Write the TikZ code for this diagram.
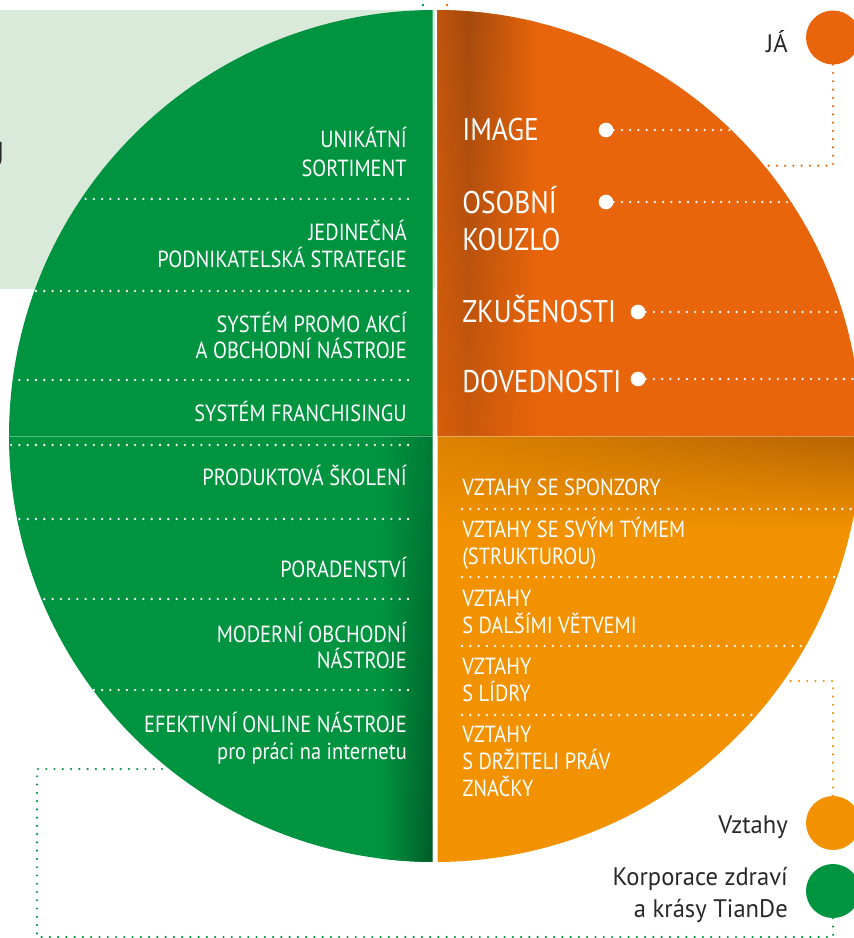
\documentclass[tikz,border=0pt]{standalone}
\usepackage{fontspec}
\usetikzlibrary{fadings}
\newfontfamily\cf[FakeStretch=0.875]{PT Sans}
\newfontfamily\lf[FakeStretch=0.97]{PT Sans}
\definecolor{gr}{RGB}{0,148,64}
\definecolor{dgr}{RGB}{0,92,40}
\definecolor{lgr}{RGB}{217,234,219}
\definecolor{orU}{RGB}{233,101,11}
\definecolor{brU}{RGB}{164,74,14}
\definecolor{orL}{RGB}{242,146,0}
\definecolor{brL}{RGB}{182,100,4}
\definecolor{txt}{RGB}{40,40,40}
\tikzfading[name=gfade, top color=transparent!55, bottom color=transparent!0]
\tikzfading[name=ofade, top color=transparent!0, bottom color=transparent!55]
\tikzfading[name=lfade, left color=transparent!65, right color=transparent!0]
\begin{document}
\begin{tikzpicture}[x=0.75pt,y=-0.75pt,
  gtxt/.style={font=\cf\fontsize{17.5}{21}\selectfont, text=white, inner sep=0, anchor=base east},
  otxt/.style={font=\cf\fontsize{17.5}{21}\selectfont, text=white, inner sep=0, anchor=base west},
  btxt/.style={font=\cf\fontsize{23.5}{28}\selectfont, text=white, inner sep=0, anchor=base west},
  ltxt/.style={font=\lf\fontsize{19}{24}\selectfont, text=txt, inner sep=0, anchor=base east},
  wdots/.style={white, line width=1.9pt, line cap=round, dash pattern=on 0pt off 6.2pt},
  cdots/.style={#1, line width=1.8pt, line cap=round, dash pattern=on 0pt off 6.2pt},
  bigdot/.style={circle, fill=white, minimum size=11pt, inner sep=0},
  legdot/.style={circle, fill=#1, minimum size=40.5pt, inner sep=0}]
\useasboundingbox (0,0) rectangle (853,938);
% background panel
\fill[lgr] (0,10) rectangle (435,289);
\node[font=\lf\fontsize{27}{30}\selectfont, text=txt, anchor=base east, inner sep=0] (u) at (5,167) {U};
% top dots
\coordinate (gt) at (423,5);
\coordinate (ot) at (447,5);
\fill[gr] (gt) circle[radius=1.3];
\fill[orU] (ot) circle[radius=1.3];
% legend and connectors
\node[legdot=orU] (ja) at (833,37.5) {};
\node[ltxt] (jat) at (788,53) {JÁ};
\coordinate (jae) at (767,165.7);
\draw[cdots=orU] (ja.south) |- (jae);
\node[legdot=orL] (vz) at (833,823) {};
\node[ltxt] (vzt) at (788,833) {Vztahy};
\coordinate (vze) at (783,681);
\draw[cdots=orL] (vz.north) |- (vze);
\node[legdot=gr] (kc) at (833,891) {};
\node[ltxt] (kct1) at (788,885) {Korporace zdraví};
\node[ltxt] (kct2) at (788,917) {a krásy TianDe};
\coordinate (c1) at (37,937);
\coordinate (ge) at (168,769);
\draw[cdots=gr] (kc.south) |- (c1) |- (ge);
% green half
\begin{scope}
  \clip (0,0) rectangle (432.8,938);
  \clip (435,436) circle[radius=426];
  \fill[gr] (0,0) rectangle (433,938);
  \shade[left color=gr, right color=dgr, path fading=gfade] (380,436) rectangle (433,866);
  \draw[white, opacity=0.3, line width=0.75pt] (432.3,0) -- (432.3,938);
  \foreach \yy in {199,291,380,445,519,599,690}{
    \draw[wdots] (408,\yy) -- (0,\yy);
  }
\end{scope}
% upper orange quarter
\begin{scope}
  \clip (437.7,0) rectangle (900,436);
  \clip (435,436) circle[radius=426];
  \fill[orU] (437,0) rectangle (900,436);
  \shade[left color=brU!60!orU, right color=brU, path fading=ofade] (437,0) rectangle (468,436);
  \shade[left color=brU, right color=orU, path fading=ofade] (468,0) rectangle (538,436);
\end{scope}
% lower orange quarter
\begin{scope}
  \clip (437.7,436) rectangle (900,938);
  \clip (435,436) circle[radius=426];
  \fill[orL] (437,436) rectangle (900,938);
  \shade[top color=brL, bottom color=orL, path fading=lfade] (438,436) rectangle (870,530);
\end{scope}
% separator line
\begin{scope}
  \clip (435,436) circle[radius=426];
  \draw[white, opacity=0.35, line width=0.75pt] (0,436) -- (900,436);
\end{scope}
% green texts
\node[gtxt] (g1a) at (407,148) {UNIKÁTNÍ};
\node[gtxt] (g1b) at (407,176) {SORTIMENT};
\node[gtxt] (g2a) at (407,240) {JEDINEČNÁ};
\node[gtxt] (g2b) at (407,267) {PODNIKATELSKÁ STRATEGIE};
\node[gtxt] (g3a) at (407,332) {SYSTÉM PROMO AKCÍ};
\node[gtxt] (g3b) at (407,358) {A OBCHODNÍ NÁSTROJE};
\node[gtxt] (g4) at (407,421) {SYSTÉM FRANCHISINGU};
\node[gtxt] (g5) at (407,485) {PRODUKTOVÁ ŠKOLENÍ};
\node[gtxt] (g6) at (407,577) {PORADENSTVÍ};
\node[gtxt] (g7a) at (407,642) {MODERNÍ OBCHODNÍ};
\node[gtxt] (g7b) at (407,668) {NÁSTROJE};
\node[gtxt] (g8a) at (407,732) {EFEKTIVNÍ ONLINE NÁSTROJE};
\node[gtxt] (g8b) at (407,759) {pro práci na internetu};
% upper orange texts with dots
\begin{scope}
  \clip (435,436) circle[radius=426];
  \node[btxt] (o1) at (462,141) {IMAGE};
  \node[bigdot] (o1d) at (606,130) {};
  \coordinate (o1e) at (870,130);
  \draw[wdots] (o1d) -- (o1e);
  \node[btxt] (o2a) at (462,213) {OSOBNÍ};
  \node[btxt] (o2b) at (462,250) {KOUZLO};
  \node[bigdot] (o2d) at (606,202) {};
  \coordinate (o2e) at (870,202);
  \draw[wdots] (o2d) -- (o2e);
  \node[btxt] (o3) at (462,322) {ZKUŠENOSTI};
  \node[bigdot] (o3d) at (638,312) {};
  \coordinate (o3e) at (870,312);
  \draw[wdots] (o3d) -- (o3e);
  \node[btxt] (o4) at (462,392) {DOVEDNOSTI};
  \node[bigdot] (o4d) at (638,379) {};
  \coordinate (o4e) at (870,379);
  \draw[wdots] (o4d) -- (o4e);
  % lower orange separators
  \foreach \yy in {509,577,646,715}{
    \draw[wdots] (462,\yy) -- (880,\yy);
  }
\end{scope}
\node[otxt] (l1) at (462,495) {VZTAHY SE SPONZORY};
\node[otxt] (l2a) at (462,537) {VZTAHY SE SVÝM TÝMEM};
\node[otxt] (l2b) at (462,564) {(STRUKTUROU)};
\node[otxt] (l3a) at (462,606) {VZTAHY};
\node[otxt] (l3b) at (462,633) {S DALŠÍMI VĚTVEMI};
\node[otxt] (l4a) at (462,674) {VZTAHY};
\node[otxt] (l4b) at (462,701) {S LÍDRY};
\node[otxt] (l5a) at (462,742) {VZTAHY};
\node[otxt] (l5b) at (462,769) {S DRŽITELI PRÁV};
\node[otxt] (l5c) at (462,796) {ZNAČKY};
\end{tikzpicture}
\end{document}
